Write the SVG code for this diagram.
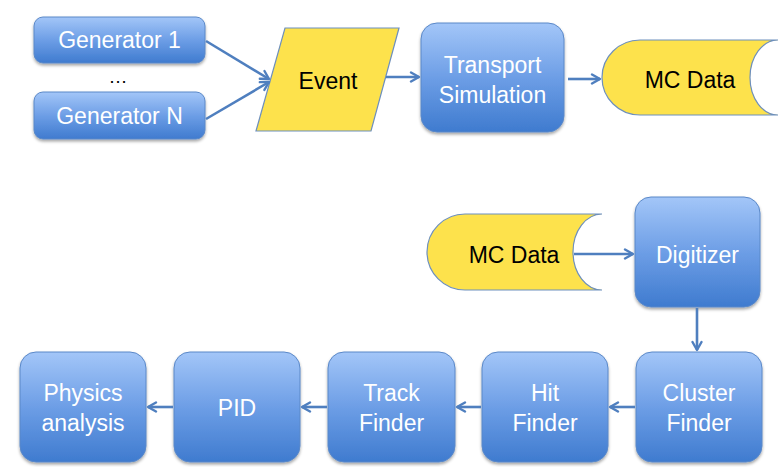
<svg xmlns="http://www.w3.org/2000/svg" width="783" height="467" viewBox="0 0 783 467">
<defs>
<linearGradient id="blue" x1="0" y1="0" x2="0" y2="1">
<stop offset="0" stop-color="#a3c6f8"/>
<stop offset="0.5" stop-color="#6d9ee6"/>
<stop offset="1" stop-color="#3f7bcf"/>
</linearGradient>
<filter id="sh" x="-10%" y="-10%" width="120%" height="130%">
<feDropShadow dx="0" dy="2" stdDeviation="1.8" flood-color="#000" flood-opacity="0.35"/>
</filter>
<marker id="ah" viewBox="0 0 12 12" refX="10" refY="6" markerWidth="12" markerHeight="12" markerUnits="userSpaceOnUse" orient="auto">
<path d="M2,1.5 L10,6 L2,10.5" fill="none" stroke="#4f7fbf" stroke-width="2.4" stroke-linejoin="round" stroke-linecap="round"/>
</marker>
</defs>
<style>
.box{fill:url(#blue);stroke:#5a88c8;stroke-width:1;filter:url(#sh)}
.yel{fill:#fde24c;stroke:#6d8fbd;stroke-width:1.2}
.wt{font-family:"Liberation Sans",Arial,sans-serif;font-size:23px;fill:#ffffff;text-anchor:middle}
.bt{font-family:"Liberation Sans",Arial,sans-serif;font-size:23px;fill:#000000;text-anchor:middle}
.con path,.con line{stroke:#4f7fbf;stroke-width:2.6;fill:none;marker-end:url(#ah)}
</style>
<g id="gen1"><rect class="box" x="34" y="17" width="171" height="46" rx="9"/><text class="wt" x="119.5" y="48">Generator 1</text></g>
<g id="dots"><text class="bt" x="118" y="83" style="font-size:19px">…</text></g>
<g id="genN"><rect class="box" x="34" y="92" width="171" height="47" rx="9"/><text class="wt" x="119.5" y="124">Generator N</text></g>
<g id="event"><polygon class="yel" points="285,28 399,28 371,131 256,131"/><text class="bt" x="328" y="89">Event</text></g>
<g id="transport"><rect class="box" x="421" y="23" width="143" height="109" rx="16"/><text class="wt" x="492.5" y="73">Transport</text><text class="wt" x="492.5" y="103">Simulation</text></g>
<g id="mcdata1"><path class="yel" d="M640,40 L778,40 A28,37.5 0 0 0 778,115 L640,115 A38,37.5 0 0 1 640,40 Z"/><text class="bt" x="690" y="88">MC Data</text></g>
<g id="mcdata2"><path class="yel" d="M465,214 L602,214 A29,38 0 0 0 602,290 L465,290 A38,38 0 0 1 465,214 Z"/><text class="bt" x="514" y="263">MC Data</text></g>
<g id="digitizer"><rect class="box" x="635" y="197" width="125" height="110" rx="16"/><text class="wt" x="697.5" y="263">Digitizer</text></g>
<g id="cluster"><rect class="box" x="636" y="352" width="126" height="110" rx="16"/><text class="wt" x="699" y="401">Cluster</text><text class="wt" x="699" y="431">Finder</text></g>
<g id="hit"><rect class="box" x="482" y="352" width="126" height="110" rx="16"/><text class="wt" x="545" y="401">Hit</text><text class="wt" x="545" y="431">Finder</text></g>
<g id="track"><rect class="box" x="328" y="352" width="127" height="110" rx="16"/><text class="wt" x="391.5" y="401">Track</text><text class="wt" x="391.5" y="431">Finder</text></g>
<g id="pid"><rect class="box" x="174" y="352" width="126" height="110" rx="16"/><text class="wt" x="237" y="416">PID</text></g>
<g id="physics"><rect class="box" x="20" y="352" width="126" height="110" rx="16"/><text class="wt" x="83" y="401">Physics</text><text class="wt" x="83" y="431">analysis</text></g>
<g id="connectors" class="con">
<line x1="206" y1="41" x2="269" y2="79"/>
<line x1="206" y1="119" x2="269" y2="82"/>
<line x1="386" y1="77" x2="419" y2="77"/>
<line x1="568" y1="79" x2="600" y2="79"/>
<line x1="574" y1="254" x2="633" y2="254"/>
<line x1="697" y1="308" x2="697" y2="350"/>
<line x1="635" y1="407" x2="610" y2="407"/>
<line x1="481" y1="407" x2="457" y2="407"/>
<line x1="327" y1="407" x2="302" y2="407"/>
<line x1="173" y1="407" x2="148" y2="407"/>
</g>
</svg>
